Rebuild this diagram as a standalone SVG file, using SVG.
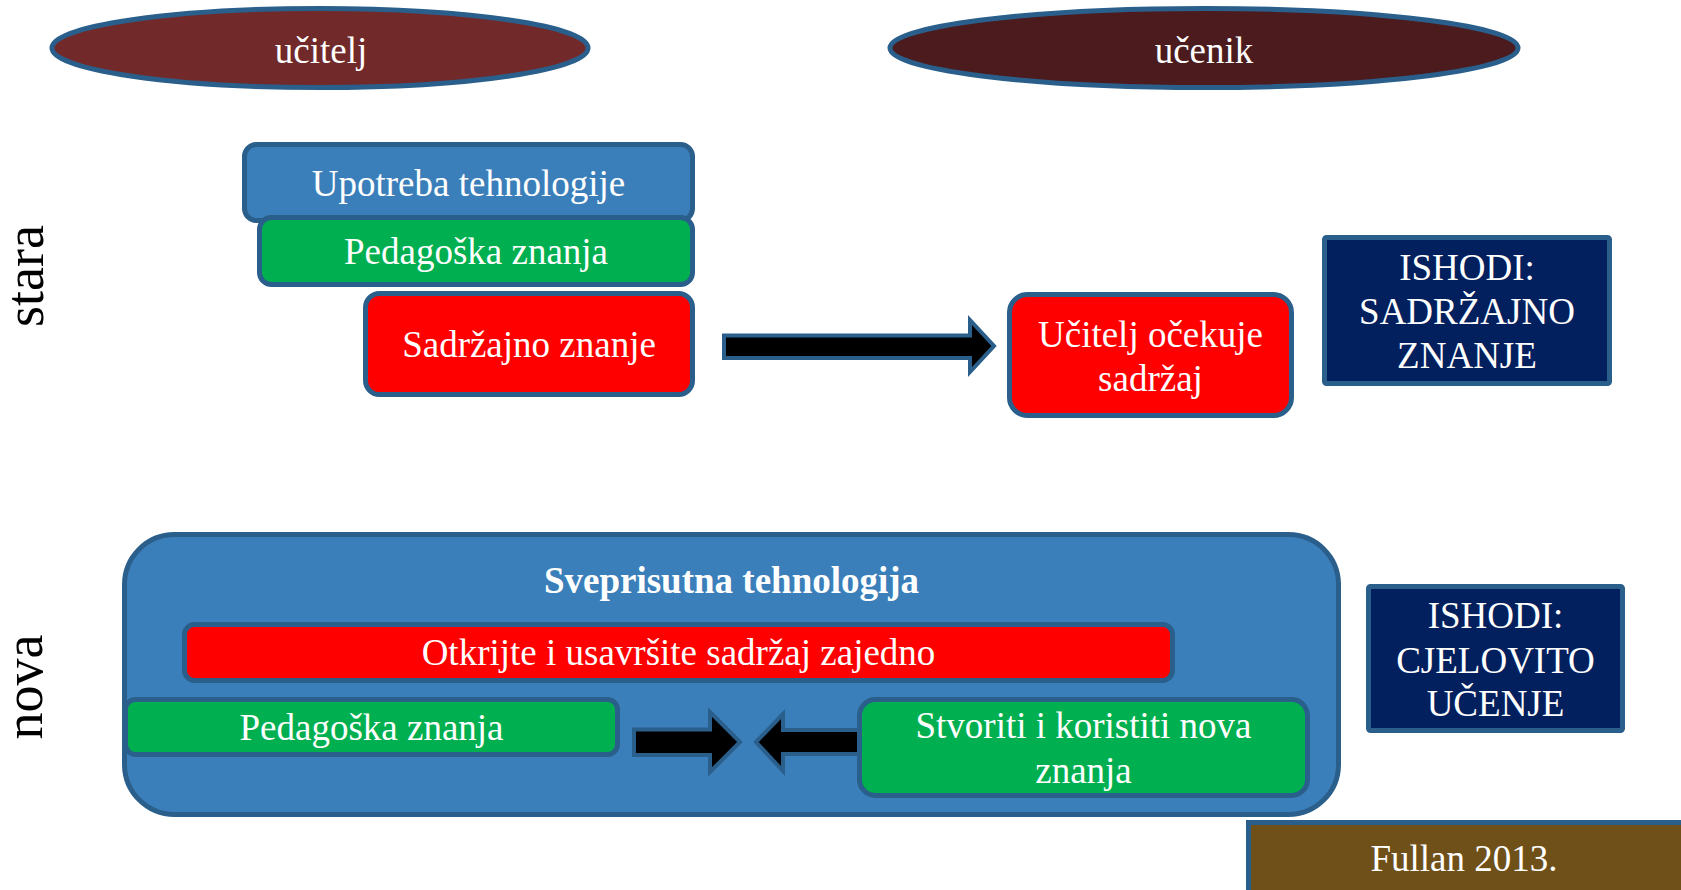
<svg xmlns="http://www.w3.org/2000/svg" width="1681" height="890" viewBox="0 0 1681 890">
<style>
  .t { font-family: "Liberation Serif", "Times New Roman", serif; font-size: 37px; fill: #ffffff; text-anchor: middle; }
  .b { font-weight: bold; }
  .side { font-family: "Liberation Serif", "Times New Roman", serif; font-size: 54px; fill: #000000; text-anchor: middle; }
  .box { stroke: #2A5E8B; stroke-width: 5; }
  .blue { fill: #3B7FBA; }
  .green { fill: #00B050; }
  .red { fill: #FF0000; }
  .navy { fill: #03205E; }
  .arrow { fill: #000000; stroke: #2A5E8B; stroke-width: 4; stroke-linejoin: miter; }
</style>
<rect x="0" y="0" width="1681" height="890" fill="#ffffff"/>

<g id="label-stara"><text class="side" transform="translate(43,276) rotate(-90)">stara</text></g>
<g id="label-nova"><text class="side" transform="translate(42,687) rotate(-90)">nova</text></g>

<g id="ucitelj">
  <ellipse class="box" cx="320" cy="48" rx="268" ry="39.5" fill="#712929"/>
  <text class="t" x="321" y="63">učitelj</text>
</g>
<g id="ucenik">
  <ellipse class="box" cx="1204" cy="48" rx="314" ry="39.5" fill="#4B1B1E"/>
  <text class="t" x="1204" y="63">učenik</text>
</g>

<g id="upotreba">
  <rect class="box blue" x="244.5" y="144.5" width="448" height="76" rx="12"/>
  <text class="t" x="468.5" y="196">Upotreba tehnologije</text>
</g>
<g id="pedagoska1">
  <rect class="box green" x="259.5" y="217.5" width="433" height="67" rx="12"/>
  <text class="t" x="476" y="264">Pedagoška znanja</text>
</g>
<g id="sadrzajno">
  <rect class="box red" x="365.5" y="293.5" width="327" height="101" rx="14"/>
  <text class="t" x="529" y="357">Sadržajno znanje</text>
</g>
<g id="ocekuje">
  <rect class="box red" x="1009.5" y="294.5" width="282" height="121" rx="18"/>
  <text class="t" x="1150.5" y="347">Učitelj očekuje</text>
  <text class="t" x="1150.5" y="391">sadržaj</text>
</g>
<g id="ishodi1">
  <rect class="box navy" x="1324.5" y="237.5" width="285" height="146" rx="2"/>
  <text class="t" x="1467" y="280">ISHODI:</text>
  <text class="t" x="1467" y="324">SADRŽAJNO</text>
  <text class="t" x="1467" y="368">ZNANJE</text>
</g>

<g id="sveprisutna">
  <rect class="box blue" x="124.5" y="534.5" width="1214" height="280" rx="50"/>
  <text class="t b" x="731.5" y="593">Sveprisutna tehnologija</text>
</g>
<g id="otkrijte">
  <rect class="box red" x="184.5" y="624.5" width="988" height="56" rx="10"/>
  <text class="t" x="678.5" y="665">Otkrijte i usavršite sadržaj zajedno</text>
</g>

<g id="connectors">
  <polygon class="arrow" points="724,335.5 970,335.5 970,320 994,346 970,372 970,358 724,358"/>
  <polygon class="arrow" points="634,729.5 710,729.5 710,712 740,742 710,772 710,755 634,755"/>
  <polygon class="arrow" points="756,742 783,714 783,730 862,730 862,754 783,754 783,771"/>
</g>

<g id="pedagoska2">
  <rect class="box green" x="125.5" y="699.5" width="492" height="55" rx="10"/>
  <text class="t" x="371.5" y="740">Pedagoška znanja</text>
</g>
<g id="stvoriti">
  <rect class="box green" x="859.5" y="699.5" width="448" height="96" rx="16"/>
  <text class="t" x="1083.5" y="738">Stvoriti i koristiti nova</text>
  <text class="t" x="1083.5" y="783">znanja</text>
</g>
<g id="ishodi2">
  <rect class="box navy" x="1368.5" y="586.5" width="254" height="144" rx="2"/>
  <text class="t" x="1495.5" y="628">ISHODI:</text>
  <text class="t" x="1495.5" y="673">CJELOVITO</text>
  <text class="t" x="1495.5" y="716">UČENJE</text>
</g>
<g id="fullan">
  <rect class="box" x="1248.5" y="822.5" width="440" height="80" fill="#6F5019"/>
  <text class="t" x="1464" y="871">Fullan 2013.</text>
</g>
</svg>
